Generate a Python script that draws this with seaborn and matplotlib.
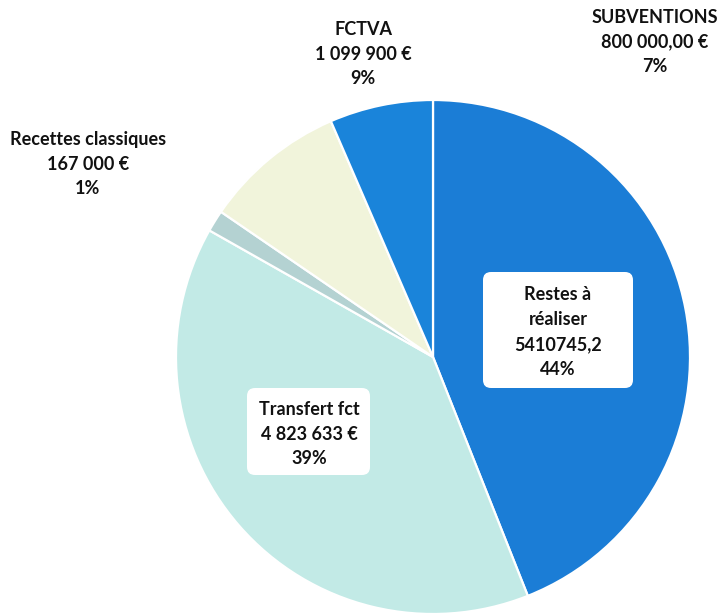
import matplotlib
matplotlib.use("Agg")
import matplotlib.pyplot as plt
import seaborn as sns
from matplotlib.patches import FancyBboxPatch

# Data (clockwise from 12 o'clock)
categories = ["Restes à\nréaliser", "Transfert fct", "Recettes classiques", "FCTVA", "SUBVENTIONS"]
values = [5410745.2, 4823633, 167000, 1099900, 800000]
value_texts = ["5410745,2", "4 823 633 €", "167 000 €", "1 099 900 €", "800 000,00 €"]
pct_texts = ["44%", "39%", "1%", "9%", "7%"]
colors = ["#1b7dd6", "#c2eae6", "#b4d2d2", "#f1f4db", "#1a84da"]

sns.set_theme(style="white")
plt.rcParams['font.family'] = ['Lato', 'DejaVu Sans']

W, H = 717, 616
fig = plt.figure(figsize=(W / 100, H / 100), dpi=100)
ax = fig.add_axes([0, 0, 1, 1])

cx, cy, r = 433, H - 357, 257
wedges, _ = ax.pie(values, colors=colors, startangle=90, counterclock=False,
                   center=(cx, cy), radius=r, frame=True,
                   wedgeprops=dict(edgecolor="white", linewidth=1.6))
ax.set_xlim(0, W)
ax.set_ylim(0, H)
ax.set_aspect("equal")
ax.axis("off")

fs = 13
# label block centres in pixel coords from top-left
positions = {
    0: (558, 332),
    1: (309, 434),
    2: (88, 164),
    3: (363, 54),
    4: (655, 42),
}
boxed = {0: (483, 272, 150, 116), 1: (247, 388, 123, 87)}
for i, (bx, by, bw, bh) in boxed.items():
    p = FancyBboxPatch((bx + 8, H - by - bh + 8), bw - 16, bh - 16,
                       boxstyle="round,pad=8", facecolor="white", edgecolor="none", zorder=3)
    ax.add_patch(p)

for i in range(len(categories)):
    x, y = positions[i]
    txt = f"{categories[i]}\n{value_texts[i]}\n{pct_texts[i]}"
    ax.text(x, H - y, txt, ha="center", va="center", fontsize=fs, fontweight="bold",
            color="#111111", linespacing=1.55, zorder=4)

fig.savefig("out.png", dpi=100)
